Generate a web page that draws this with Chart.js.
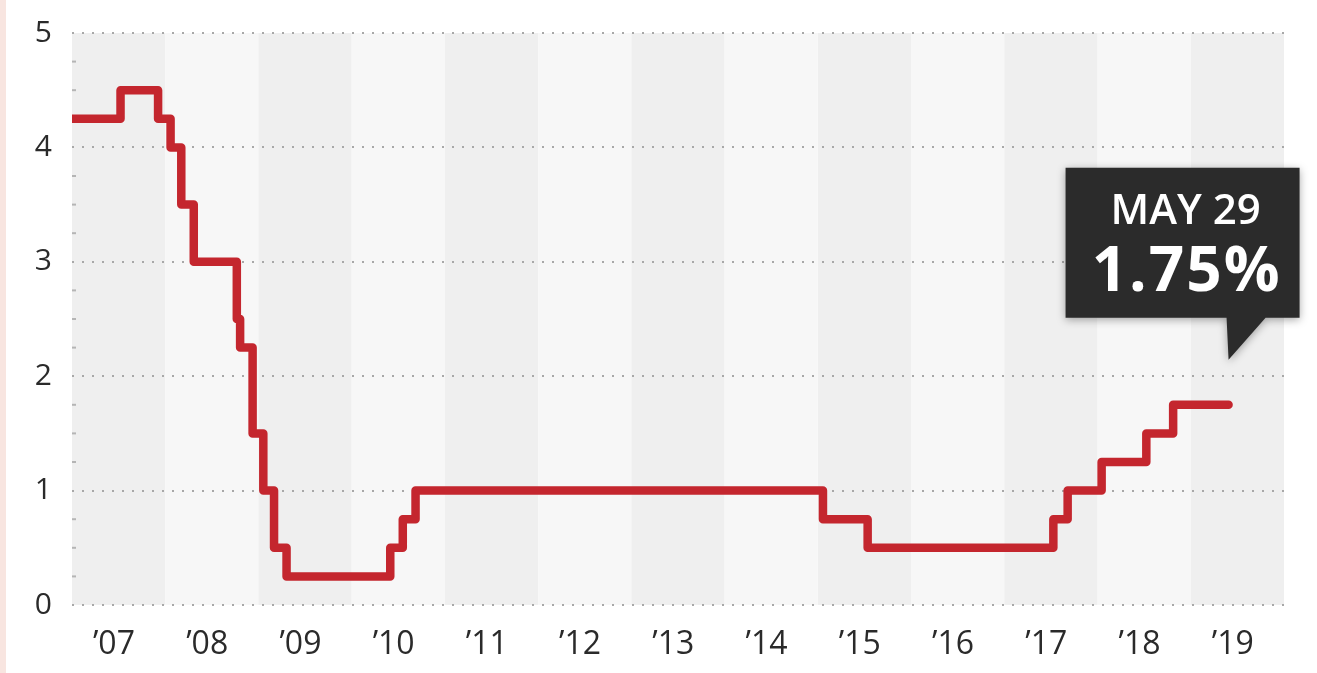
<!DOCTYPE html>
<html>
<head>
<meta charset="utf-8">
<script src="https://cdn.jsdelivr.net/npm/chart.js@4/dist/chart.umd.min.js"></script>
<style>
  body { margin: 0; background: #fff; }
  #wrap { position: relative; width: 1317px; height: 673px; }
  #strip { position: absolute; left: 0; top: 0; width: 6px; height: 673px; background: #f8e5e0; }
  #chart { position: absolute; left: 0; top: 0; }
</style>
</head>
<body>
<div id="wrap">
  <div id="strip"></div>
  <canvas id="chart" width="1317" height="673"></canvas>
</div>
<script>
// rate decisions: date of change and new rate
const changeDates = [
  '2007-01-01', '2007-07-10', '2007-12-04', '2008-01-22', '2008-03-04',
  '2008-04-22', '2008-10-08', '2008-10-21', '2008-12-09', '2009-01-20',
  '2009-03-03', '2009-04-21', '2010-06-01', '2010-07-20', '2010-09-08',
  '2015-01-21', '2015-07-15', '2017-07-12', '2017-09-06', '2018-01-17',
  '2018-07-11', '2018-10-24', '2019-05-29'
];
const rates = [
  4.25, 4.5, 4.25, 4.0, 3.5,
  3.0, 2.5, 2.25, 1.5, 1.0,
  0.5, 0.25, 0.5, 0.75, 1.0,
  0.75, 0.5, 0.75, 1.0, 1.25,
  1.5, 1.75, 1.75
];
const yearLabels = ['’07', '’08', '’09', '’10', '’11', '’12', '’13', '’14', '’15', '’16', '’17', '’18', '’19'];
const firstYear = 2007;
const yTicks = [0, 1, 2, 3, 4, 5];
const calloutDate = 'MAY 29';

const FONT = '"Open Sans", "DejaVu Sans", sans-serif';

function toYear(d) {
  const [y, m, day] = d.split('-').map(Number);
  const start = Date.UTC(y, 0, 1);
  const end = Date.UTC(y + 1, 0, 1);
  return y + (Date.UTC(y, m - 1, day) - start) / (end - start);
}

const points = changeDates.map((d, i) => ({x: toYear(d), y: rates[i]}));

// alternating year columns + small quarter ticks on the left edge
const bandsPlugin = {
  id: 'bands',
  beforeDraw(chart) {
    const {ctx, chartArea} = chart;
    const x = chart.scales.x;
    ctx.save();
    yearLabels.forEach((_, i) => {
      const x0 = x.getPixelForValue(firstYear + i);
      const x1 = x.getPixelForValue(firstYear + i + 1);
      ctx.fillStyle = i % 2 === 0 ? '#efefef' : '#f7f7f7';
      ctx.fillRect(x0, chartArea.top, x1 - x0, chartArea.bottom - chartArea.top);
    });
    const y = chart.scales.y;
    ctx.strokeStyle = '#b5b5b5';
    ctx.lineWidth = 2;
    for (let v = 0.25; v < 5; v += 0.25) {
      if (v % 1 === 0) continue;
      const py = y.getPixelForValue(v);
      ctx.beginPath();
      ctx.moveTo(chartArea.left, py);
      ctx.lineTo(chartArea.left + 4, py);
      ctx.stroke();
    }
    ctx.restore();
  }
};

const calloutPlugin = {
  id: 'callout',
  afterDatasetsDraw(chart) {
    const {ctx} = chart;
    const meta = chart.getDatasetMeta(0);
    const last = meta.data[meta.data.length - 1];
    const tipX = last.x;
    const tipY = last.y - 45;
    const bottom = tipY - 42;
    const top = bottom - 150;
    const left = tipX - 163;
    const right = tipX + 71;
    ctx.save();
    ctx.shadowColor = 'rgba(0,0,0,0.35)';
    ctx.shadowBlur = 8;
    ctx.shadowOffsetY = 2;
    ctx.fillStyle = '#2b2b2b';
    ctx.beginPath();
    ctx.moveTo(left, top);
    ctx.lineTo(right, top);
    ctx.lineTo(right, bottom);
    ctx.lineTo(tipX + 37, bottom);
    ctx.lineTo(tipX, tipY);
    ctx.lineTo(tipX - 2, bottom);
    ctx.lineTo(left, bottom);
    ctx.closePath();
    ctx.fill();
    ctx.shadowColor = 'transparent';
    const cx = (left + right) / 2 + 3;
    ctx.fillStyle = '#ffffff';
    ctx.textAlign = 'center';
    ctx.textBaseline = 'alphabetic';
    ctx.font = '600 42px ' + FONT;
    ctx.fillText(calloutDate, cx, top + 56);
    ctx.font = '700 62px ' + FONT;
    ctx.letterSpacing = '2px';
    ctx.fillText(rates[rates.length - 1].toFixed(2) + '%', cx + 1, top + 123);
    ctx.restore();
  }
};

new Chart(document.getElementById('chart'), {
  type: 'line',
  data: {
    datasets: [{
      data: points,
      borderColor: '#c4262e',
      borderWidth: 8.5,
      stepped: true,
      pointRadius: 0,
      borderCapStyle: 'round',
      borderJoinStyle: 'round',
      fill: false
    }]
  },
  options: {
    responsive: false,
    animation: false,
    layout: {padding: {left: 0, right: 33, top: 33, bottom: 0}},
    plugins: {legend: {display: false}, tooltip: {enabled: false}},
    scales: {
      x: {
        type: 'linear',
        min: firstYear,
        max: firstYear + yearLabels.length,
        afterBuildTicks: (scale) => {
          scale.ticks = yearLabels.map((_, i) => ({value: firstYear + i + 0.45}));
        },
        afterFit: (scale) => { scale.height = 68; },
        ticks: {
          autoSkip: false,
          maxRotation: 0,
          padding: 13,
          color: '#2a2a2a',
          font: {family: FONT, size: 32},
          callback: (v, i) => yearLabels[i]
        },
        grid: {display: false},
        border: {display: false}
      },
      y: {
        min: 0,
        max: 5,
        afterBuildTicks: (scale) => {
          scale.ticks = yTicks.map(v => ({value: v}));
        },
        afterFit: (scale) => { scale.width = 72; },
        ticks: {
          padding: 20,
          color: '#2a2a2a',
          font: {family: FONT, size: 30, lineHeight: 0.8}
        },
        grid: {color: '#a8a8a8', lineWidth: 2, drawTicks: false},
        border: {display: false, dash: [2, 8]}
      }
    }
  },
  plugins: [bandsPlugin, calloutPlugin]
});
</script>
</body>
</html>
